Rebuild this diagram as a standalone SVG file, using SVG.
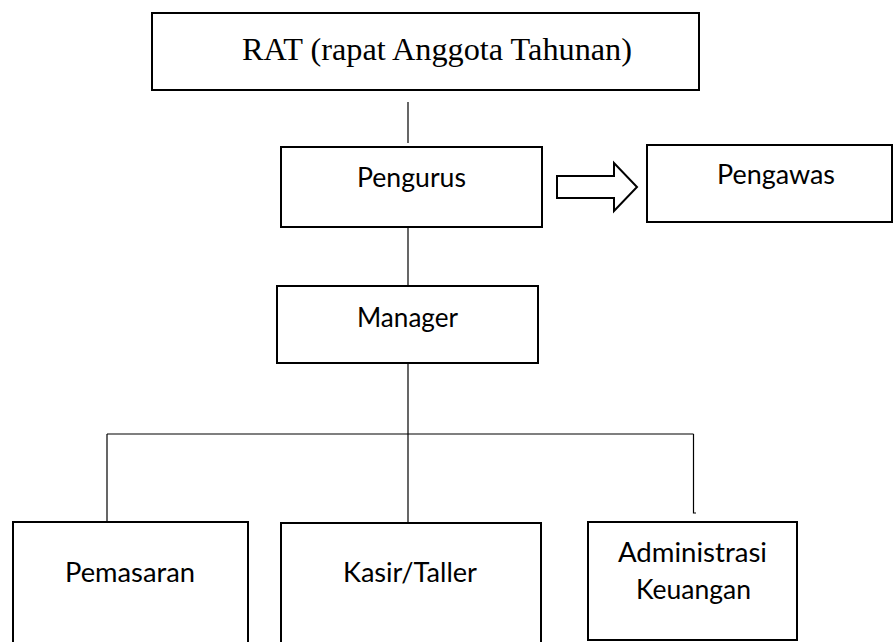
<svg xmlns="http://www.w3.org/2000/svg" width="895" height="642" viewBox="0 0 895 642">
<style>
.box{fill:#fff;stroke:#000;stroke-width:2}
.ln{fill:none;stroke:#000;stroke-width:1.2}
.t{font-family:Lato,"Open Sans","Liberation Sans",sans-serif;font-size:26px;fill:#000}
.ts{font-family:"Liberation Serif","Times New Roman",serif;font-size:32px;fill:#000}
</style>
<rect width="895" height="642" fill="#fff"/>
<g id="connectors">
<path class="ln" d="M408 102V143"/>
<path class="ln" d="M408 227V286"/>
<path class="ln" d="M408 363V524"/>
<path class="ln" d="M107 434H693.5"/>
<path class="ln" d="M107 434V522"/>
<path class="ln" d="M693.5 434V513H696"/>
<path class="box" d="M557 176H614V163L637 187L614 211V198H557Z"/>
</g>
<g id="rat">
<rect class="box" x="152" y="13" width="547" height="77"/>
<text class="ts" x="242" y="60" textLength="390" lengthAdjust="spacingAndGlyphs">RAT (rapat Anggota Tahunan)</text>
</g>
<g id="pengurus">
<rect class="box" x="281" y="147" width="261" height="80"/>
<text class="t" x="357" y="187" textLength="109" lengthAdjust="spacingAndGlyphs">Pengurus</text>
</g>
<g id="pengawas">
<rect class="box" x="647" y="145" width="245" height="77"/>
<text class="t" x="717" y="184" textLength="118" lengthAdjust="spacingAndGlyphs">Pengawas</text>
</g>
<g id="manager">
<rect class="box" x="277" y="286" width="261" height="77"/>
<text class="t" x="357" y="327" textLength="101" lengthAdjust="spacingAndGlyphs">Manager</text>
</g>
<g id="pemasaran">
<rect class="box" x="13" y="522" width="235" height="130"/>
<text class="t" x="65" y="582" textLength="130" lengthAdjust="spacingAndGlyphs">Pemasaran</text>
</g>
<g id="kasir">
<rect class="box" x="281" y="523" width="260" height="130"/>
<text class="t" x="343" y="582" textLength="134" lengthAdjust="spacingAndGlyphs">Kasir/Taller</text>
</g>
<g id="administrasi">
<rect class="box" x="588" y="522" width="209" height="118"/>
<text class="t" x="618" y="562" textLength="149" lengthAdjust="spacingAndGlyphs">Administrasi</text>
<text class="t" x="636" y="599" textLength="115" lengthAdjust="spacingAndGlyphs">Keuangan</text>
</g>
</svg>
